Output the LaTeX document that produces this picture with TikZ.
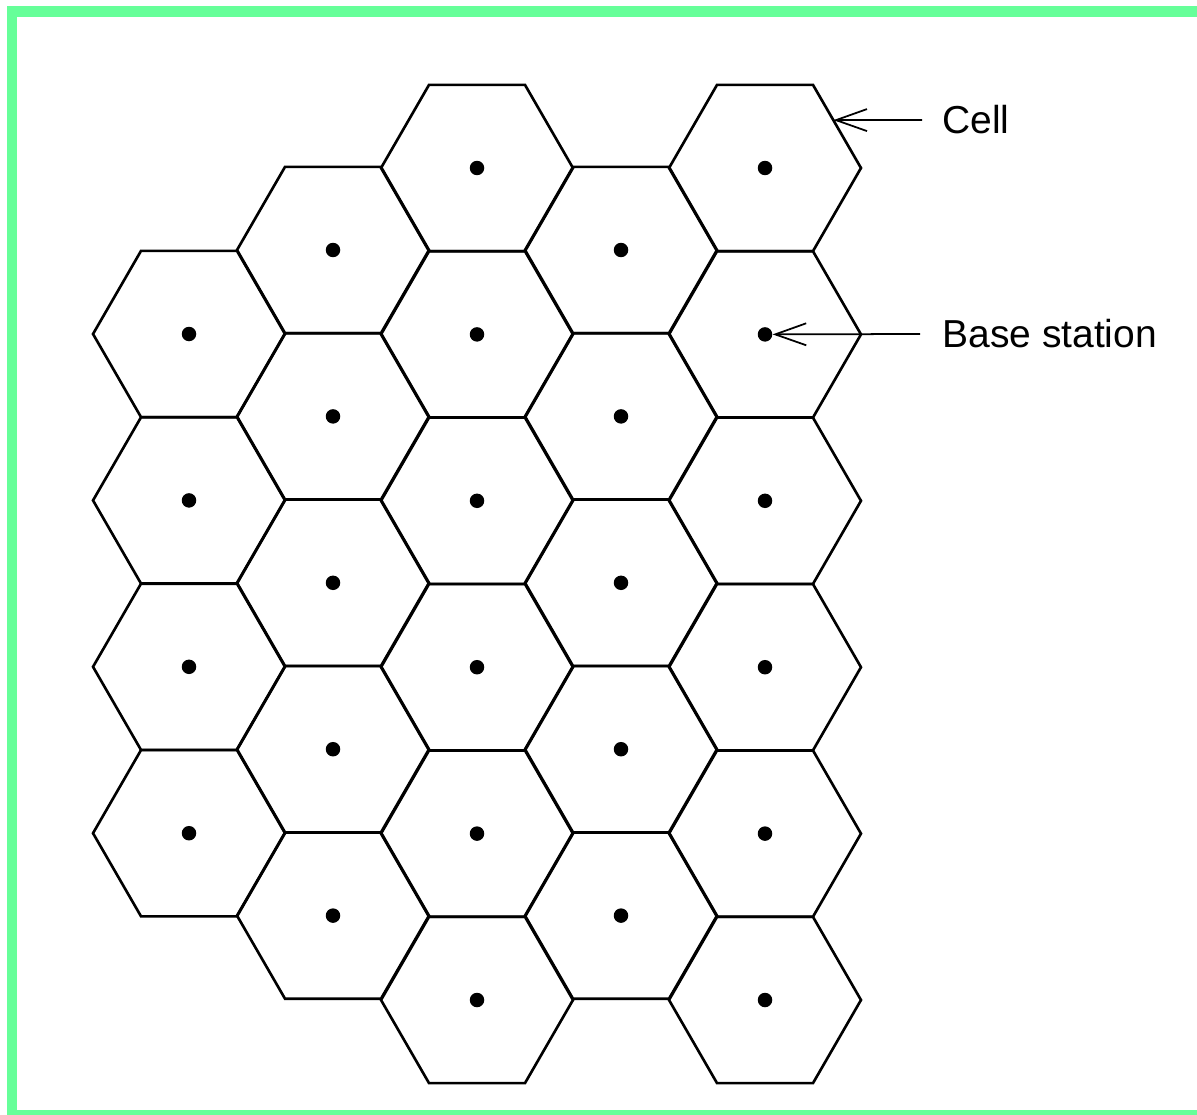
\documentclass[tikz,border=0pt]{standalone}
\usepackage{fontspec}
\setmainfont{Liberation Sans}
\usetikzlibrary{arrows.meta, positioning, shapes.geometric}
\definecolor{hijaubingkai}{RGB}{102,255,153}

\tikzset{
  cell/.style={draw=black, line width=1.5pt, regular polygon, regular polygon sides=6,
    minimum size=3.84cm, inner sep=0pt, outer sep=0pt},
  bs/.style={circle, fill=black, minimum size=0.29cm, inner sep=0pt},
  pointer/.style={line width=1pt, -{Straight Barb[length=0.62cm, width=0.44cm, line width=1pt]}},
  lbl/.style={font=\fontsize{22.2}{26}\selectfont, inner sep=0pt, anchor=west}
}

\begin{document}
\begin{tikzpicture}[x=0.02cm, y=-0.02cm]
                \useasboundingbox (0,0) rectangle (1197,1115);
                % frame
                \fill[hijaubingkai] (7,6) rectangle (1197,17);
                \fill[hijaubingkai] (7,6) rectangle (17,1115);
                \fill[hijaubingkai] (7,1110) rectangle (1197,1115);
                % cells, column by column
                \foreach \col/\yoff/\num in {0/334/4, 1/250/5, 2/168/6, 3/250/5, 4/168/6} {
                  \foreach \row in {1,...,\num} {
                    \node[cell] (c-\col-\row) at ({189+144*\col}, {\yoff+166.4*(\row-1)}) {};
                    \node[bs] (bs-\col-\row) at (c-\col-\row) {};
                  }
                }
                % labels
                \coordinate (cell-tail) at (922,120);
                \coordinate (bs-tail) at (920,334);
                \node[lbl, right=0.4cm of cell-tail] (cell-lbl) {Cell};
                \node[lbl, right=0.44cm of bs-tail] (bs-lbl) {Base station};
                \draw[pointer] (cell-tail) -- (c-4-1.35);
                \draw[pointer] (bs-tail) -- (bs-4-2);
            \end{tikzpicture}
\end{document}
